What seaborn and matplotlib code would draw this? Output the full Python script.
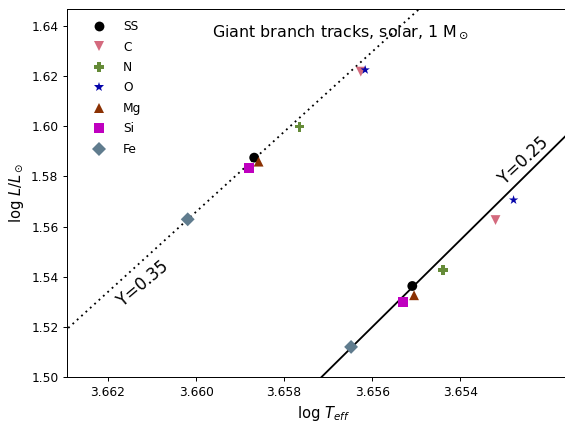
import matplotlib
matplotlib.use("Agg")
import matplotlib.pyplot as plt
import seaborn as sns
import pandas as pd

# Element labels and marker styling for each abundance variation
elements = ["SS", "C", "N", "O", "Mg", "Si", "Fe"]
markers = ["o", "v", "P", "*", "^", "s", "D"]
colors = ["black", "#d46a7e", "#658b38", "#0504aa", "#8b3103", "#bf00bf", "#607c8e"]

# Points on the Y=0.35 track (log Teff, log L/Lsun)
teff_y35 = [3.65868, 3.65626, 3.65765, 3.65616, 3.65858, 3.65880, 3.66019]
logl_y35 = [1.5875, 1.6218, 1.5998, 1.6225, 1.5859, 1.5835, 1.5629]

# Points on the Y=0.25 track
teff_y25 = [3.65509, 3.65320, 3.65439, 3.65279, 3.65505, 3.65531, 3.65648]
logl_y25 = [1.5363, 1.5626, 1.5427, 1.5706, 1.5326, 1.5298, 1.5120]

# Giant branch tracks
track35_teff = [3.6632, 3.6545]
track35_logl = [1.5148, 1.6537]
track25_teff = [3.65741, 3.65127]
track25_logl = [1.4955, 1.6020]

sns.set_style("ticks")
plt.rcParams["font.family"] = ["DejaVu Sans"]
plt.rcParams["mathtext.fontset"] = "dejavusans"
for key in ["text.color", "axes.labelcolor", "xtick.color", "ytick.color",
            "axes.edgecolor"]:
    plt.rcParams[key] = "black"

fig = plt.figure(figsize=(6.4, 4.8), dpi=88.34)
ax = fig.add_axes([67 / 565, 47 / 424, (580 - 67) / 565, 368 / 424])

df = pd.DataFrame({
    "element": elements * 2,
    "logT": teff_y35 + teff_y25,
    "logL": logl_y35 + logl_y25,
})

sns.lineplot(x=track35_teff, y=track35_logl, ax=ax, color="black", lw=1.5,
             linestyle=(0, (1, 2.2)), sort=False, estimator=None)
sns.lineplot(x=track25_teff, y=track25_logl, ax=ax, color="black", lw=1.5,
             sort=False, estimator=None)

sns.scatterplot(data=df, x="logT", y="logL", hue="element", style="element",
                hue_order=elements, style_order=elements,
                palette=dict(zip(elements, colors)),
                markers=dict(zip(elements, markers)),
                s=64, linewidth=0, ax=ax, zorder=3)

leg = ax.get_legend()
handles = leg.legend_handles
labels = [t.get_text() for t in leg.get_texts()]
ax.legend(handles, labels, loc="upper left", bbox_to_anchor=(0.016, 1.0),
          frameon=False, fontsize=10, labelspacing=0.61, handletextpad=1.0)

ax.set_xlim(3.66293, 3.651273)
ax.set_ylim(1.50, 1.6468)
ax.set_xticks([3.662, 3.660, 3.658, 3.656, 3.654])
ax.set_xticklabels(["3.662", "3.660", "3.658", "3.656", "3.654"])
ax.set_yticks([1.50, 1.52, 1.54, 1.56, 1.58, 1.60, 1.62, 1.64])
ax.set_yticklabels([f"{v:.2f}" for v in [1.50, 1.52, 1.54, 1.56, 1.58, 1.60, 1.62, 1.64]])
ax.tick_params(labelsize=10, length=3.5, width=0.8, color="black")
for sp in ax.spines.values():
    sp.set_color("black")
    sp.set_linewidth(0.8)

ax.set_xlabel(r"log $T_{eff}$", fontsize=12)
ax.set_ylabel(r"log $L/L_\odot$", fontsize=12)

ax.text(0.283, 0.9375, r"Giant branch tracks, solar, 1 M$_\odot$",
        transform=ax.transAxes, fontsize=13, ha="left", va="center")
ax.text(3.6612, 1.5372, "Y=0.35", fontsize=13.5, rotation=40,
        ha="center", va="center")
ax.text(3.65256, 1.5864, "Y=0.25", fontsize=13.5, rotation=43,
        ha="center", va="center")

fig.savefig("out.png", dpi=88.34)
